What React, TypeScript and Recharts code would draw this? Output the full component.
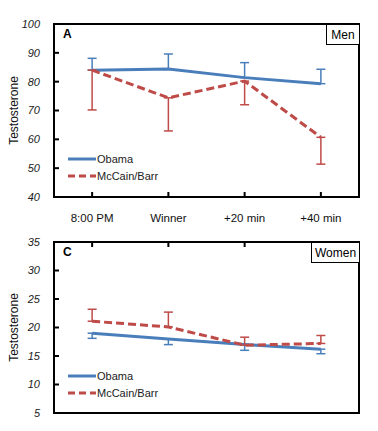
import React from 'react'
import { LineChart, Line, XAxis, YAxis, ErrorBar, Legend, ReferenceLine } from 'recharts'

const categories = ['8:00 PM', 'Winner', '+20 min', '+40 min']
const catIndex = [0, 1, 2, 3]

// Men (panel A)
const menObama = [84.0, 84.4, 81.4, 79.3]
const menObamaUp = [4.1, 5.2, 5.2, 5.0]
const menMcCain = [84.0, 74.4, 80.2, 60.7]
const menMcCainDown = [13.8, 11.5, 8.2, 9.3]
const menTicks = [40, 50, 60, 70, 80, 90, 100]

// Women (panel C)
const womenObama = [19.0, 18.0, 17.0, 16.2]
const womenObamaDown = [0.9, 1.0, 1.0, 0.8]
const womenMcCain = [21.1, 20.1, 16.9, 17.2]
const womenMcCainUp = [2.1, 2.6, 1.4, 1.4]
const womenTicks = [5, 10, 15, 20, 25, 30, 35]

const BLUE = '#4a7ebb'
const RED = '#be4b48'
const FONT = '"Liberation Sans", Arial, sans-serif'

const menData = catIndex.map((i) => ({
  x: i,
  obama: menObama[i],
  mccain: menMcCain[i],
  obamaErr: [0, menObamaUp[i]],
  mccainErr: [menMcCainDown[i], 0],
}))

const womenData = catIndex.map((i) => ({
  x: i,
  obama: womenObama[i],
  mccain: womenMcCain[i],
  obamaErr: [womenObamaDown[i], 0],
  mccainErr: [0, womenMcCainUp[i]],
}))

// half a category of room on each side, like a category axis
const xDomain = [-0.5, categories.length - 0.5]

// short inward tick marks, drawn from reference lines placed on each tick value
const leftMark = (p: any) => (
  <rect x={Math.min(p.x1, p.x2)} y={p.y1 - 1} width={5} height={2} fill="#000" />
)
const bottomMark = (p: any) => (
  <rect x={p.x1 - 1} y={Math.max(p.y1, p.y2) - 5} width={2} height={5} fill="#000" />
)
const topMark = (p: any) => (
  <rect x={p.x1 - 1} y={Math.min(p.y1, p.y2)} width={2} height={5} fill="#000" />
)

const YTick = (p: any) => (
  <text x={p.x} y={p.y} dy="0.35em" textAnchor="end" fontSize={11} fontStyle="italic" fill="#222" fontFamily={FONT}>
    {p.payload.value}
  </text>
)

const XTickBottom = (p: any) => (
  <text x={p.x} y={Number(p.y) + 17} dy="0.71em" textAnchor="middle" fontSize={11.5} fill="#111" fontFamily={FONT}>
    {categories[p.payload.value]}
  </text>
)

function LegendBox() {
  const items = [
    { name: 'Obama', color: BLUE, dash: undefined },
    { name: 'McCain/Barr', color: RED, dash: '7 4' },
  ]
  return (
    <div style={{ fontFamily: FONT, fontSize: 11, color: '#222' }}>
      {items.map((it) => (
        <div key={it.name} style={{ display: 'flex', alignItems: 'center', height: 17 }}>
          <svg width={28} height={6} style={{ marginRight: 1 }}>
            <line x1={0} y1={3} x2={28} y2={3} stroke={it.color} strokeWidth={3} strokeDasharray={it.dash} />
          </svg>
          <span>{it.name}</span>
        </div>
      ))}
    </div>
  )
}

// plot frame
function Frame({ left, top, width, height }: { left: number; top: number; width: number; height: number }) {
  return (
    <div
      style={{
        position: 'absolute', left, top, width, height, boxSizing: 'border-box',
        border: '2px solid #000', pointerEvents: 'none',
      }}
    />
  )
}

function Tag({ text, left, top, width, height }: { text: string; left: number; top: number; width: number; height: number }) {
  return (
    <div
      style={{
        position: 'absolute', left, top, width, height, boxSizing: 'border-box',
        border: '1.5px solid #000', background: '#fff', fontFamily: FONT, fontSize: 12,
        display: 'flex', alignItems: 'center', justifyContent: 'center',
      }}
    >
      {text}
    </div>
  )
}

function PanelLetter({ text, left, top }: { text: string; left: number; top: number }) {
  return (
    <div style={{ position: 'absolute', left, top, fontFamily: FONT, fontSize: 12, fontWeight: 'bold' }}>{text}</div>
  )
}

const yLabel = (value: string) => ({
  value,
  angle: -90,
  position: 'insideLeft' as const,
  offset: 14,
  style: { textAnchor: 'middle', fontSize: 12, fill: '#111', fontFamily: FONT },
})

export default function App() {
  return (
    <div style={{ position: 'absolute', left: 0, top: 0, width: 378, height: 431, background: '#fff' }}>
      <div style={{ position: 'absolute', left: 0, top: 0 }}>
        <LineChart width={378} height={232} data={menData} margin={{ top: 24, right: 19, bottom: 5, left: 0 }}>
          <XAxis
            dataKey="x"
            type="number"
            domain={xDomain}
            ticks={catIndex}
            height={30}
            axisLine={false}
            tickLine={false}
            tickSize={0}
            tickMargin={0}
            tick={XTickBottom}
            interval={0}
          />
          <YAxis
            domain={[40, 100]}
            ticks={menTicks}
            width={54}
            axisLine={false}
            tickLine={false}
            tickSize={0}
            tickMargin={14}
            tick={YTick}
            label={yLabel('Testosterone')}
          />
          {menTicks.map((v) => (
            <ReferenceLine key={'y' + v} y={v} shape={leftMark} />
          ))}
          {catIndex.map((i) => (
            <ReferenceLine key={'x' + i} x={i} shape={bottomMark} />
          ))}
          <Line dataKey="obama" stroke={BLUE} strokeWidth={3} dot={false} isAnimationActive={false}>
            <ErrorBar dataKey="obamaErr" direction="y" width={4.5} stroke={BLUE} strokeWidth={1.5} />
          </Line>
          <Line dataKey="mccain" stroke={RED} strokeWidth={3} strokeDasharray="8 4" dot={false} isAnimationActive={false}>
            <ErrorBar dataKey="mccainErr" direction="y" width={4.5} stroke={RED} strokeWidth={1.5} />
          </Line>
          <Legend
            layout="vertical"
            align="center"
            verticalAlign="middle"
            content={<LegendBox />}
            wrapperStyle={{ position: 'absolute', left: 68, top: 150, width: 'auto', bottom: 'auto' }}
          />
        </LineChart>
        <Frame left={53} top={23} width={307} height={175} />
        <PanelLetter text="A" left={63} top={27} />
        <Tag text="Men" left={326} top={24} width={34} height={21} />
      </div>
      <div style={{ position: 'absolute', left: 0, top: 232 }}>
        <LineChart width={378} height={199} data={womenData} margin={{ top: 10, right: 19, bottom: 18, left: 0 }}>
          <XAxis
            dataKey="x"
            type="number"
            domain={xDomain}
            ticks={catIndex}
            orientation="top"
            height={0}
            axisLine={false}
            tickLine={false}
            tick={false}
          />
          <YAxis
            domain={[5, 35]}
            ticks={womenTicks}
            width={54}
            axisLine={false}
            tickLine={false}
            tickSize={0}
            tickMargin={14}
            tick={YTick}
            label={yLabel('Testosterone')}
          />
          {womenTicks.map((v) => (
            <ReferenceLine key={'y' + v} y={v} shape={leftMark} />
          ))}
          {catIndex.map((i) => (
            <ReferenceLine key={'x' + i} x={i} shape={topMark} />
          ))}
          <Line dataKey="obama" stroke={BLUE} strokeWidth={3} dot={false} isAnimationActive={false}>
            <ErrorBar dataKey="obamaErr" direction="y" width={4.5} stroke={BLUE} strokeWidth={1.5} />
          </Line>
          <Line dataKey="mccain" stroke={RED} strokeWidth={3} strokeDasharray="8 4" dot={false} isAnimationActive={false}>
            <ErrorBar dataKey="mccainErr" direction="y" width={4.5} stroke={RED} strokeWidth={1.5} />
          </Line>
          <Legend
            layout="vertical"
            align="center"
            verticalAlign="middle"
            content={<LegendBox />}
            wrapperStyle={{ position: 'absolute', left: 68, top: 135, width: 'auto', bottom: 'auto' }}
          />
        </LineChart>
        <Frame left={53} top={9} width={307} height={173} />
        <PanelLetter text="C" left={63} top={13} />
        <Tag text="Women" left={311} top={10} width={49} height={21} />
      </div>
    </div>
  )
}
